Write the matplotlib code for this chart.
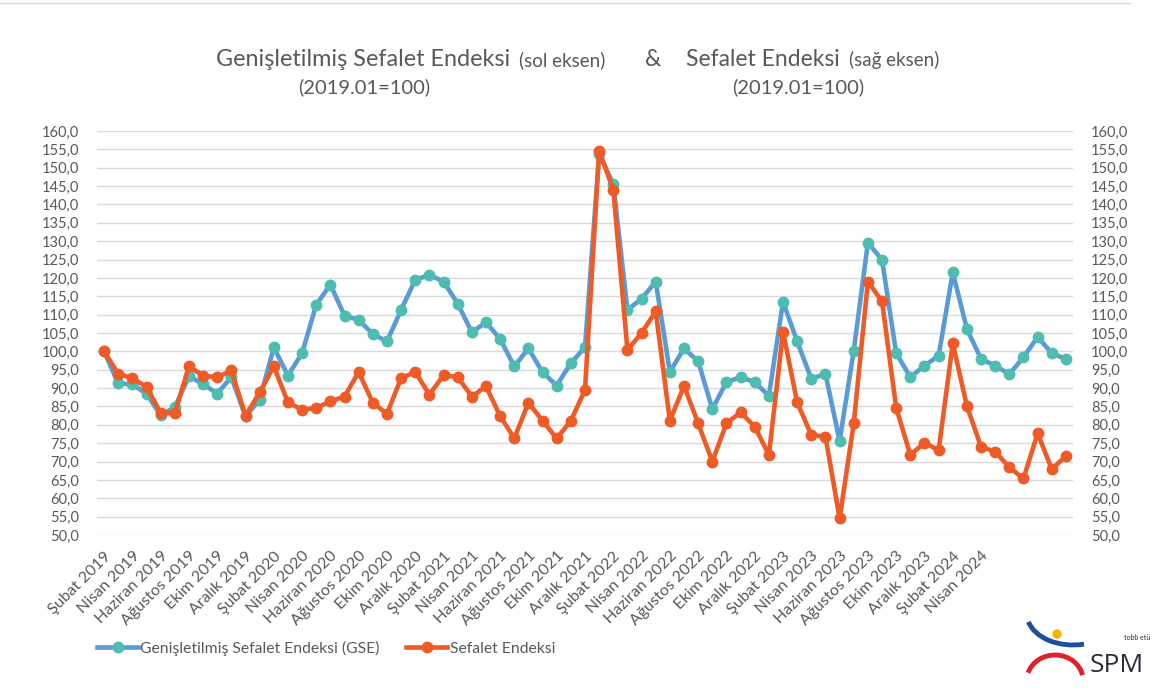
import matplotlib
matplotlib.use("Agg")
import matplotlib.pyplot as plt
from matplotlib.patches import Arc, Circle
import numpy as np

plt.rcParams['font.family'] = ['Lato', 'DejaVu Sans']

# Genişletilmiş Sefalet Endeksi (GSE) - sol eksen
gse = [100.0, 91.3, 91.0, 88.5, 82.6, 84.8, 93.2, 91.1, 88.5, 93.0, 82.3, 86.8,
       101.1, 93.4, 99.5, 112.7, 118.2, 109.7, 108.6, 104.7, 102.7, 111.3, 119.5, 120.8,
       119.0, 113.0, 105.2, 107.9, 103.4, 95.9, 100.8, 94.3, 90.7, 96.8, 101.1, 153.8,
       145.5, 111.3, 114.3, 119.0, 94.4, 100.8, 97.3, 84.3, 91.6, 93.0, 91.6, 87.9,
       113.5, 102.7, 92.5, 93.9, 75.6, 100.2, 129.6, 124.9, 99.5, 93.0, 96.1, 98.8,
       121.5, 106.1, 97.9, 96.1, 93.8, 98.4, 103.9, 99.5, 97.9]
# Sefalet Endeksi - sağ eksen
se = [100.0, 93.9, 92.7, 90.3, 83.2, 83.2, 95.9, 93.4, 92.9, 94.8, 82.5, 88.8,
      95.9, 86.1, 84.1, 84.6, 86.4, 87.7, 94.4, 86.0, 83.0, 92.7, 94.4, 88.2,
      93.5, 93.0, 87.7, 90.5, 82.4, 76.3, 86.0, 81.1, 76.3, 81.1, 89.5, 154.6,
      144.0, 100.4, 105.0, 110.9, 81.1, 90.6, 80.4, 70.0, 80.4, 83.4, 79.5, 71.8,
      105.3, 86.1, 77.2, 76.8, 54.5, 80.4, 119.0, 113.6, 84.6, 71.8, 75.1, 73.1,
      102.2, 85.1, 74.0, 72.7, 68.4, 65.4, 77.7, 67.9, 71.5]

tick_labels = []
for yil in [2019, 2020, 2021, 2022, 2023]:
    for ay in ['Şubat', 'Nisan', 'Haziran', 'Ağustos', 'Ekim', 'Aralık']:
        tick_labels.append(f'{ay} {yil}')
tick_labels += ['Şubat 2024', 'Nisan 2024']

W, H = 1163, 693
fig = plt.figure(figsize=(W/100, H/100), dpi=100)
ax = fig.add_axes([97/W, 1-535/H, (1073-97)/W, (535-131)/H])
ax2 = ax.twinx()

gray = '#595959'
x = np.arange(len(gse))

l1, = ax.plot(x, gse, color='#5B9BD5', lw=3.3, marker='o', ms=7.5,
              mfc='#4DBDB0', mec='#4DBDB0', label='Genişletilmiş Sefalet Endeksi (GSE)')
l2, = ax2.plot(x, se, color='#EE5B26', lw=3.3, marker='o', ms=7.5,
               mfc='#EE5B26', mec='#EE5B26', label='Sefalet Endeksi')

yt = np.arange(50, 161, 5)
for a in (ax, ax2):
    a.set_ylim(50, 160)
    a.set_yticks(yt)
    a.set_yticklabels([f'{v:.1f}'.replace('.', ',') for v in yt])
    a.tick_params(axis='y', length=0, labelsize=10.5, colors=gray, pad=13)
    for s in a.spines.values():
        s.set_visible(False)
ax.set_xlim(-0.5, len(gse) - 0.5)
ax.yaxis.grid(True, color='#d9d9d9', lw=1)
ax.set_axisbelow(True)
ax.set_xticks(np.arange(0, 2*len(tick_labels), 2))
ax.set_xticklabels(tick_labels, rotation=45, ha='right', rotation_mode='anchor')
ax.tick_params(axis='x', length=0, labelsize=11.5, colors=gray, pad=10)

# başlık
def ftext(px, py, s, size, **kw):
    fig.text(px/W, 1-py/H, s, fontsize=size, color=gray, va='center', **kw)

ftext(216, 59, 'Genişletilmiş Sefalet Endeksi', 16.8)
ftext(519, 60, '(sol eksen)', 13.5)
ftext(645, 59, '&', 16.5)
ftext(686, 59, 'Sefalet Endeksi', 16.5)
ftext(849, 60, '(sağ eksen)', 13.5)
ftext(364, 87, '(2019.01=100)', 14.5, ha='center')
ftext(798, 87, '(2019.01=100)', 14.5, ha='center')

fig.legend(handles=[l1, l2], loc='center left', bbox_to_anchor=(83/W, 1-648/H),
           ncol=2, frameon=False, fontsize=11.3, labelcolor=gray,
           handlelength=2.6, handletextpad=0.15, columnspacing=1.7)

# üst çerçeve çizgisi
fig.add_artist(plt.Line2D([0, 1130/W], [1-3/H, 1-3/H], color='#d9d9d9', lw=1))

# logo
lax = fig.add_axes([1015/W, 1-690/H, 140/W, 75/H])
lax.set_xlim(0, 140)
lax.set_ylim(0, 75)
lax.axis('off')
lax.add_patch(Arc((58, 76), 92, 62, theta1=190, theta2=290, color='#1f4e9c', lw=3.5))
lax.add_patch(Arc((40, 10), 56, 50, theta1=10, theta2=165, color='#e0202a', lw=3.5))
lax.add_patch(Circle((42, 56), 4, color='#f7b500'))
lax.text(75, 24, 'SPM', fontsize=19, color='#2b2b3a', family='Open Sans', va='center')
lax.text(122, 50, 'tobb etü', fontsize=5, color='#2b2b3a', ha='center')

fig.savefig('out.png', dpi=100)
